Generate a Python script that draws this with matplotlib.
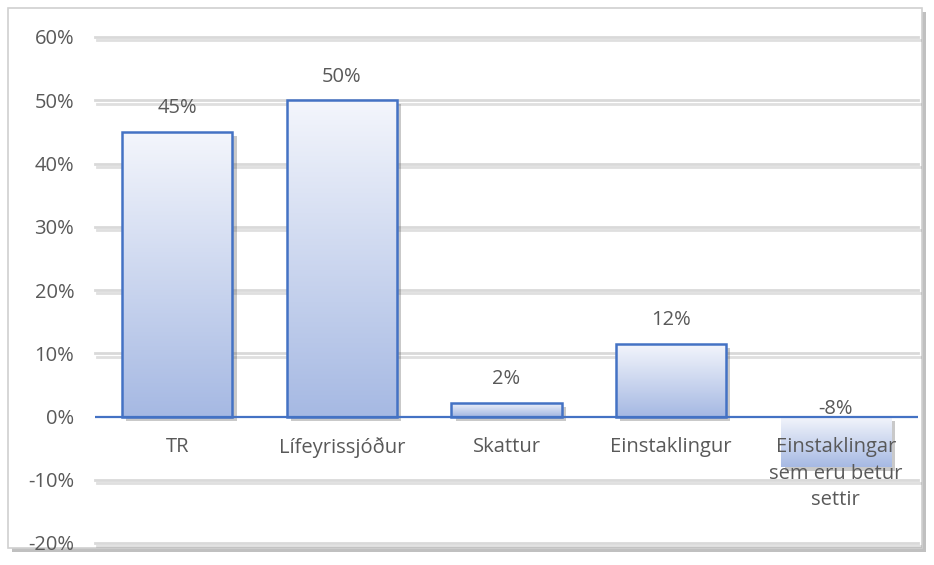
import numpy as np
import matplotlib
matplotlib.use('Agg')
import matplotlib.pyplot as plt
import matplotlib.patheffects as pe
from matplotlib.colors import LinearSegmentedColormap
from matplotlib.patches import Rectangle

categories = ['TR', 'Lífeyrissjóður', 'Skattur', 'Einstaklingur',
              'Einstaklingar\nsem eru betur\nsettir']
values = [0.45, 0.50, 0.022, 0.115, -0.08]
value_labels = ['45%', '50%', '2%', '12%', '-8%']
yticks = [-0.2, -0.1, 0.0, 0.1, 0.2, 0.3, 0.4, 0.5, 0.6]

plt.rcParams['font.family'] = ['Open Sans', 'DejaVu Sans']
text_col = '#595959'
edge_col = '#4472C4'
grad = LinearSegmentedColormap.from_list('g', ['#f4f6fc', '#a6b9e3'])
fs = 14.5

fig = plt.figure(figsize=(9.34, 5.65), dpi=100)
# outer chart frame with a soft shadow, kept behind the axes
frame = Rectangle((8 / 934, 1 - 548 / 565), 914 / 934, 540 / 565,
                  transform=fig.transFigure, facecolor='white',
                  edgecolor='#d0d0d0', lw=1.2, zorder=-5,
                  path_effects=[pe.SimplePatchShadow(offset=(3, -3), alpha=0.35),
                                pe.Normal()])
fig.patches.append(frame)

ax = fig.add_axes([95 / 934, 1 - 543 / 565, 823 / 934, 506 / 565])
ax.set_facecolor('none')
ax.set_xlim(-0.5, len(categories) - 0.5)
ax.set_ylim(-0.2, 0.6)

shadow = [pe.SimpleLineShadow(offset=(1.5, -2.5), alpha=0.25, shadow_color='#808080'),
          pe.Normal()]
for t in yticks:
    if t == 0:
        continue
    ax.axhline(t, color='#d9d9d9', lw=2.0, zorder=1, path_effects=shadow,
               clip_on=False)
ax.axhline(0, color=edge_col, lw=1.6, zorder=4)

width = 0.67
gimg = np.linspace(0, 1, 256).reshape(-1, 1)
for i, v in enumerate(values):
    y0, y1 = min(0, v), max(0, v)
    # shadow only, sits under the gradient fill
    ax.add_patch(Rectangle((i - width / 2, y0), width, y1 - y0,
                           facecolor='white', edgecolor='none', zorder=2,
                           path_effects=[pe.SimplePatchShadow(offset=(3, -3), alpha=0.3),
                                         pe.Normal()]))
    rect = Rectangle((i - width / 2, y0), width, y1 - y0, facecolor='none',
                     edgecolor=edge_col if v > 0 else 'none', lw=1.8, zorder=3)
    ax.add_patch(rect)
    im = ax.imshow(gimg, cmap=grad, aspect='auto', zorder=2.5,
                   extent=(i - width / 2, i + width / 2, y0, y1), origin='upper')
    im.set_clip_path(rect)
    ly = v + 0.037 if v > 0 else 0.012
    ax.text(i, ly, value_labels[i], ha='center', va='center',
            fontsize=fs, color=text_col, zorder=6)
    ax.text(i, -0.033, categories[i], ha='center', va='top',
            fontsize=fs, color=text_col, linespacing=1.42, zorder=6)

ax.set_xlim(-0.5, len(categories) - 0.5)
ax.set_ylim(-0.2, 0.6)
ax.set_xticks([])
ax.set_yticks(yticks)
ax.set_yticklabels([f'{round(t * 100)}%' for t in yticks])
ax.tick_params(axis='y', length=0, pad=15, labelsize=fs, labelcolor=text_col)
for s in ax.spines.values():
    s.set_visible(False)

fig.savefig('out.png', dpi=100)
